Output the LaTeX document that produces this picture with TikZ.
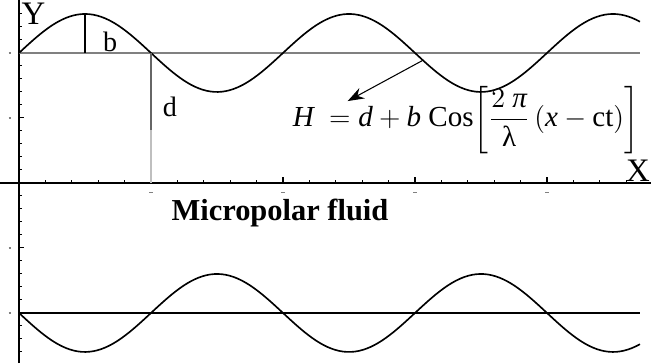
\documentclass[tikz,border=0pt]{standalone}
\usepackage{amsmath}
\usepackage{fontspec}
\setmainfont{Liberation Serif}
\usepackage{tikz}
\usetikzlibrary{arrows.meta,positioning,calc}

\begin{document}
\begin{tikzpicture}[x=1.98cm, y=0.975cm, every node/.style={font=\large},
    wave/.style={black, line width=0.7pt},
    axtick/.style={line width=0.45pt},
    ticklab/.style={line width=0.5pt, gray},
    axlab/.style={font=\fontsize{14}{16}\selectfont}]
  \useasboundingbox (-0.144,-2.785) rectangle (4.788,2.815);
  % ---- axes with ticks ----
  \draw[line width=0.6pt] (-0.144,0) -- (4.788,0);
  \draw[line width=0.6pt] (0,-2.77) -- (0,2.815);
  \foreach \t in {0.2,0.4,...,4.7}
    \draw[axtick] (\t,0) -- (\t,0.04);
  \foreach \t in {1,2,3,4} {
    \draw[axtick] (\t,0) -- (\t,0.09);
    \draw[ticklab] (\t-0.012,-0.15) -- (\t+0.012,-0.15);
  }
  \foreach \t in {-2.6,-2.4,...,2.7}
    \draw[axtick] (0,\t) -- (0.022,\t);
  \foreach \t in {-2,-1,1,2} {
    \draw[axtick] (0,\t) -- (0.04,\t);
    \draw[ticklab] (-0.078,\t) -- (-0.058,\t);
  }
  \node[axlab] (ylab) at (0.11,2.6) {Y};
  \node[axlab] (xlab) at (4.69,0.19) {X};
  % ---- upper wall ----
  \draw[gray, line width=1pt] (0,2) -- (4.705,2);
  \draw[wave] plot[domain=0:4.705, samples=160, smooth] (\x,{2+0.6*sin(180*\x)});
  \draw[line width=0.5pt] (0.5,2) -- (0.5,2.6);
  \node (blab) at (0.69,2.17) {b};
  \draw[gray!80!black, line width=0.5pt] (1,2) -- (1,0.815);
  \draw[gray!50, line width=0.9pt] (1,0.815) -- (1,0);
  \node (dlab) at (1.144,1.17) {d};
  % ---- wall shape formula ----
  \node[font=\fontsize{12.4}{14}\selectfont] (form) at (3.386,0.97)
    {$\textit{H}\ = \textit{d} + \textit{b}\ \text{Cos}\!\left[\dfrac{2\ \textit{π}}{\text{λ}}\,(\textit{x} - \text{ct})\right]$};
  \coordinate (hit) at (3.06,{2-0.6*sin(180*0.06)});
  \draw[-{Stealth[length=7pt,width=5pt]}, line width=0.45pt]
    (hit) -- ($(form.west)+(0.477,0.29)$);
  \node[font=\bfseries\fontsize{13}{15}\selectfont] (title) at (1.977,-0.46) {Micropolar fluid};
  % ---- lower wall ----
  \draw[line width=0.7pt] (0,-2) -- (4.705,-2);
  \draw[wave] plot[domain=0:4.705, samples=160, smooth] (\x,{-2-0.6*sin(180*\x)});
\end{tikzpicture}
\end{document}
